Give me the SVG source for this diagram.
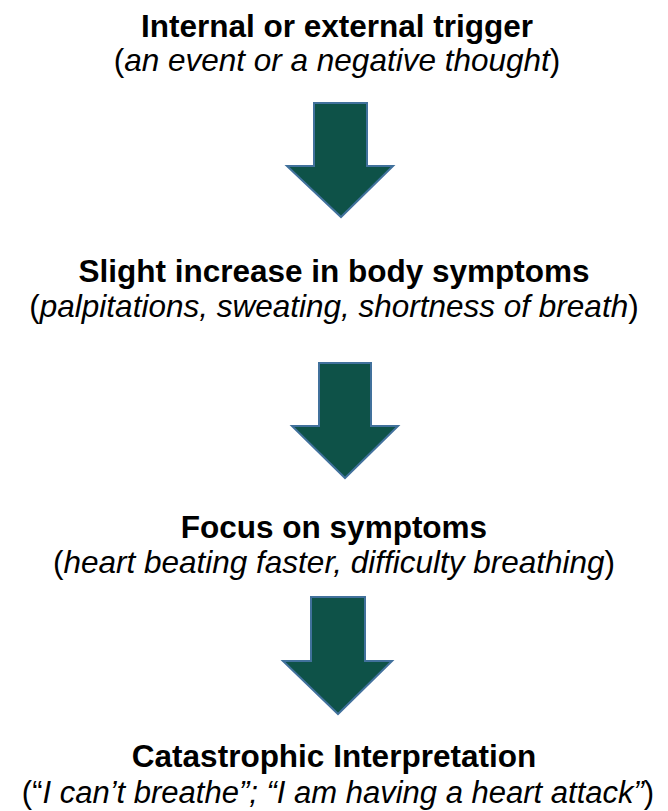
<svg xmlns="http://www.w3.org/2000/svg" width="668" height="811" viewBox="0 0 668 811">
<style>
.t{font-family:"Liberation Sans",Arial,sans-serif;font-size:31.5px;fill:#000;text-anchor:middle}
.b{font-weight:bold}
.i{font-style:italic}
.s{font-size:31px}
.arr{fill:#0E5248;stroke:#41719C;stroke-width:2;stroke-linejoin:miter}
</style>
<rect width="668" height="811" fill="#fff"/>
<g id="node1">
<text class="t b" x="337" y="37">Internal or external trigger</text>
<text class="t" x="337" y="71">(<tspan class="i">an event or a negative thought</tspan>)</text>
</g>
<g id="node2">
<text class="t b" x="334" y="282">Slight increase in body symptoms</text>
<text class="t" x="334" y="317">(<tspan class="i">palpitations, sweating, shortness of breath</tspan>)</text>
</g>
<g id="node3">
<text class="t b" x="334" y="538">Focus on symptoms</text>
<text class="t" x="334" y="573">(<tspan class="i">heart beating faster, difficulty breathing</tspan>)</text>
</g>
<g id="node4">
<text class="t b" x="334" y="767">Catastrophic Interpretation</text>
<text class="t s" x="338" y="803">(“<tspan class="i">I can’t breathe”; “I am having a heart attack”</tspan>)</text>
</g>
<g id="connectors">
<polygon class="arr" points="314,103 367,103 367,166 393,166 341,217 287,166 314,166"/>
<polygon class="arr" points="319,363 371,363 371,426 398,426 345,478 292,426 319,426"/>
<polygon class="arr" points="311,597 365,597 365,661 392,661 338,714 283,661 311,661"/>
</g>
</svg>
